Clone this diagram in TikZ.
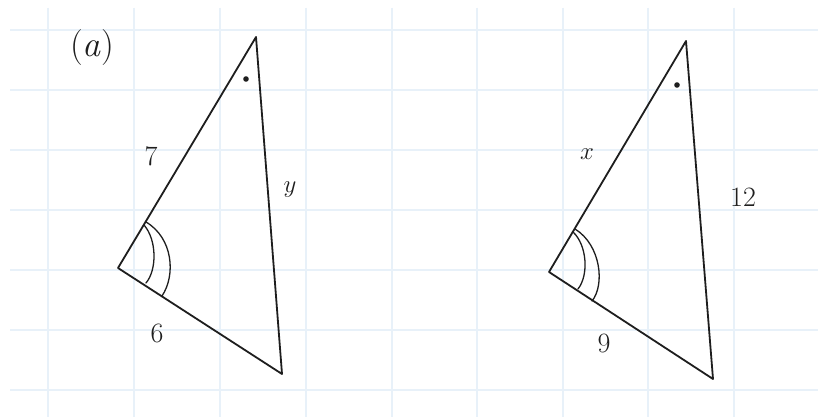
\documentclass[tikz,border=0pt]{standalone}
\definecolor{gridblue}{RGB}{232,241,249}
\definecolor{ink}{RGB}{30,30,30}
\begin{document}
\begin{tikzpicture}[x=1pt,y=-1pt,
  gridline/.style={draw=gridblue, line width=1.2pt},
  edge/.style={draw=ink, line width=1.8pt, line join=round, line cap=round},
  arcmark/.style={draw=ink, line width=1.3pt, line cap=round},
  lbl/.style={font=\fontsize{28}{32}\selectfont, text=ink, inner sep=0pt}]
\useasboundingbox (0,0) rectangle (818,419);
\fill[white] (0,0) rectangle (818,419);
% grid
\foreach \gx in {48,134,220,306,392,477,563,648,734}
  \draw[gridline] (\gx,8) -- (\gx,417);
\foreach \gy in {30,90,150,210,270,330,390}
  \draw[gridline] (10,\gy) -- (818,\gy);
% left triangle
\coordinate (A1) at (256,37);
\coordinate (B1) at (118,268);
\coordinate (C1) at (282,374);
\draw[edge] (A1) -- (B1) -- (C1) -- cycle;
\draw[arcmark] (144,225) .. controls (157,240) and (157,270) .. (146,283);
\draw[arcmark] (146,222) .. controls (173,238) and (176,275) .. (162,296);
\fill[ink] (246,79) circle (2.8);
\node[lbl, font=\fontsize{36}{40}\selectfont] (pa) at (92,48) {(\textit{a})};
\node[lbl] (l7) at (151,156) {7};
\node[lbl] (ly) at (290,190) {$y$};
\node[lbl] (l6) at (157,333) {6};
% right triangle
\coordinate (A2) at (686,41);
\coordinate (B2) at (549,272);
\coordinate (C2) at (713,379);
\draw[edge] (A2) -- (B2) -- (C2) -- cycle;
\draw[arcmark] (573,232) .. controls (587,245) and (589,275) .. (578,289);
\draw[arcmark] (575,229) .. controls (601,245) and (605,285) .. (592,301);
\fill[ink] (677,85) circle (2.8);
\node[lbl] (lx) at (587,154) {$x$};
\node[lbl] (l12) at (743,197) {12};
\node[lbl] (l9) at (604,343) {9};
\end{tikzpicture}
\end{document}
